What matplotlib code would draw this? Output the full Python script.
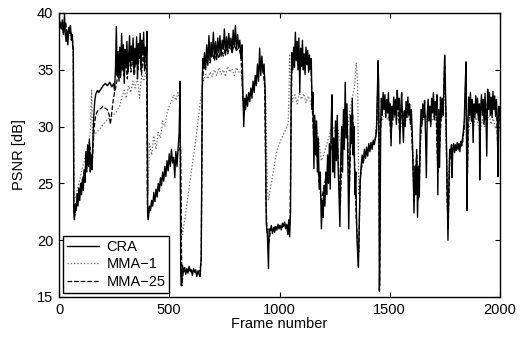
import matplotlib
matplotlib.use("Agg")
import matplotlib.pyplot as plt

plt.rcParams['font.family'] = ['Liberation Sans', 'DejaVu Sans']
plt.rcParams['font.size'] = 10.5

# CRA (solid)
cra_frame = [0, 5, 10, 15, 20, 25, 28, 32, 36, 40,
             44, 48, 52, 56, 60, 63, 65, 67, 70, 74,
             78, 82, 86, 90, 94, 98, 102, 106, 110, 114,
             118, 122, 126, 130, 134, 138, 142, 146, 150, 154,
             158, 162, 166, 170, 175, 180, 190, 200, 210, 220,
             230, 240, 248, 252, 256, 260, 264, 268, 272, 276,
             280, 284, 288, 292, 296, 300, 304, 308, 312, 316,
             320, 324, 328, 332, 336, 340, 344, 348, 352, 356,
             360, 364, 368, 372, 376, 380, 384, 388, 392, 396,
             399, 402, 405, 410, 415, 420, 425, 430, 435, 440,
             445, 450, 455, 460, 465, 470, 475, 480, 485, 490,
             495, 500, 505, 510, 515, 520, 525, 530, 535, 540,
             545, 549, 552, 555, 560, 565, 570, 575, 580, 585,
             590, 595, 600, 605, 610, 615, 620, 625, 630, 635,
             640, 645, 650, 653, 656, 660, 665, 670, 675, 680,
             685, 690, 695, 700, 705, 710, 715, 720, 725, 730,
             735, 740, 745, 750, 755, 760, 765, 770, 775, 780,
             785, 790, 795, 800, 805, 810, 815, 820, 825, 830,
             834, 838, 842, 846, 850, 855, 860, 865, 870, 875,
             880, 885, 890, 895, 900, 905, 910, 915, 920, 925,
             930, 935, 940, 945, 950, 953, 958, 963, 968, 973,
             978, 983, 988, 993, 998, 1003, 1008, 1013, 1018, 1023,
             1028, 1033, 1038, 1042, 1046, 1050, 1053, 1056, 1060, 1064,
             1068, 1072, 1076, 1080, 1084, 1088, 1092, 1096, 1100, 1104,
             1108, 1112, 1116, 1120, 1124, 1128, 1132, 1136, 1140, 1144,
             1148, 1152, 1156, 1160, 1164, 1168, 1172, 1176, 1180, 1185,
             1190, 1194, 1198, 1202, 1206, 1210, 1214, 1218, 1222, 1226,
             1230, 1234, 1238, 1242, 1246, 1250, 1254, 1258, 1262, 1266,
             1270, 1274, 1278, 1282, 1286, 1290, 1294, 1298, 1302, 1306,
             1310, 1314, 1318, 1322, 1326, 1330, 1334, 1338, 1342, 1346,
             1350, 1354, 1358, 1362, 1366, 1370, 1375, 1380, 1385, 1390,
             1395, 1400, 1405, 1410, 1415, 1420, 1425, 1430, 1435, 1440,
             1444, 1447, 1450, 1453, 1456, 1459, 1462, 1466, 1470, 1474,
             1478, 1482, 1486, 1490, 1494, 1498, 1502, 1506, 1510, 1514,
             1518, 1522, 1526, 1530, 1534, 1538, 1542, 1546, 1550, 1554,
             1558, 1562, 1566, 1570, 1574, 1578, 1582, 1586, 1590, 1594,
             1598, 1602, 1606, 1610, 1614, 1618, 1622, 1626, 1630, 1634,
             1638, 1642, 1646, 1650, 1654, 1658, 1662, 1666, 1670, 1674,
             1678, 1682, 1686, 1690, 1694, 1698, 1702, 1706, 1710, 1714,
             1718, 1722, 1726, 1730, 1734, 1738, 1742, 1746, 1749, 1752,
             1756, 1760, 1764, 1768, 1772, 1776, 1780, 1782, 1786, 1790,
             1794, 1798, 1802, 1806, 1810, 1814, 1818, 1822, 1826, 1830,
             1834, 1838, 1842, 1846, 1850, 1854, 1858, 1862, 1866, 1870,
             1874, 1878, 1882, 1886, 1890, 1894, 1898, 1902, 1906, 1908,
             1912, 1916, 1920, 1924, 1928, 1932, 1936, 1940, 1944, 1948,
             1952, 1956, 1960, 1964, 1968, 1972, 1976, 1980, 1984, 1988,
             1991, 1995, 2000]
cra_psnr = [38.8, 39.2, 38.6, 39.4, 38.1, 39.9, 38.3, 37.5, 38.4, 37.2,
            38.7, 38.2, 38.9, 37.6, 38.1, 37.0, 36.8, 22.5, 21.8, 23.2,
            22.6, 24.1, 23.0, 24.6, 23.5, 25.0, 24.0, 25.3, 24.4, 26.2,
            25.1, 27.8, 26.0, 28.4, 26.5, 28.9, 26.0, 27.5, 26.2, 29.0,
            31.0, 32.2, 32.8, 33.0, 33.2, 33.0, 33.3, 33.6, 33.8, 33.6,
            33.9, 33.5, 33.8, 33.2, 35.0, 38.8, 34.5, 36.6, 34.0, 37.0,
            34.5, 38.2, 35.0, 37.2, 33.8, 36.8, 35.2, 37.5, 34.8, 36.2,
            38.0, 35.3, 37.1, 35.8, 37.8, 34.6, 36.9, 35.5, 37.9, 34.2,
            37.3, 36.0, 38.2, 35.0, 37.6, 36.3, 38.3, 34.9, 37.0, 36.1,
            38.4, 22.3, 21.8, 23.0, 22.6, 23.5, 23.0, 24.2, 23.4, 24.5,
            23.8, 25.0, 24.3, 25.5, 24.8, 26.0, 25.2, 26.5, 25.6, 27.0,
            26.1, 27.6, 26.5, 28.0, 26.8, 27.3, 25.5, 27.8, 26.5, 28.0,
            29.5, 34.0, 17.0, 16.0, 17.8, 17.2, 17.6, 17.0, 17.5, 17.1,
            17.7, 17.3, 17.4, 16.9, 17.5, 17.2, 17.4, 16.8, 17.3, 17.0,
            16.8, 18.5, 34.5, 36.0, 35.2, 36.5, 35.0, 37.2, 35.4, 38.0,
            35.8, 37.4, 36.2, 38.3, 36.0, 37.5, 35.9, 37.8, 36.5, 38.0,
            36.2, 37.6, 36.8, 38.6, 36.3, 37.9, 36.6, 38.2, 36.9, 37.8,
            36.5, 38.5, 37.0, 38.9, 36.8, 38.1, 37.0, 37.6, 36.0, 37.2,
            33.0, 30.0, 32.5, 31.5, 32.8, 31.8, 33.0, 32.2, 33.4, 32.5,
            34.0, 33.0, 34.5, 33.6, 35.5, 34.0, 36.9, 34.5, 36.2, 34.8,
            35.5, 33.0, 21.5, 20.5, 17.5, 21.0, 20.8, 21.3, 20.6, 21.1,
            20.7, 21.2, 20.9, 21.4, 21.0, 21.3, 20.9, 21.5, 21.2, 21.6,
            21.0, 21.4, 20.5, 21.8, 20.3, 22.5, 33.0, 36.5, 35.0, 37.0,
            35.2, 38.3, 35.8, 37.5, 35.0, 37.8, 33.0, 36.9, 35.3, 37.6,
            35.0, 36.4, 34.6, 37.0, 35.5, 36.7, 34.8, 36.3, 35.0, 36.0,
            31.5, 33.0, 26.3, 31.0, 27.5, 30.5, 26.0, 29.0, 24.5, 26.0,
            21.0, 23.5, 22.0, 24.8, 23.0, 26.0, 24.0, 27.5, 25.0, 28.5,
            24.5, 30.0, 32.8, 26.0, 29.0, 25.5, 30.5, 27.0, 31.0, 26.5,
            24.0, 21.2, 27.5, 30.0, 26.0, 31.5, 28.0, 33.9, 29.0, 32.0,
            27.0, 21.0, 26.0, 31.0, 28.5, 32.5, 27.5, 30.0, 24.0, 26.0,
            21.0, 19.0, 17.6, 22.0, 25.0, 26.5, 27.5, 26.8, 28.0, 27.2,
            28.2, 27.4, 28.5, 27.8, 28.6, 28.0, 28.8, 28.4, 29.0, 29.5,
            33.0, 35.8, 33.5, 15.5, 20.0, 30.5, 32.5, 31.0, 33.0, 31.5,
            32.8, 30.8, 32.4, 31.2, 33.0, 30.5, 32.0, 28.3, 31.8, 30.6,
            32.6, 31.0, 32.4, 30.2, 33.2, 31.5, 32.5, 28.5, 31.6, 33.0,
            30.5, 28.6, 31.4, 30.0, 32.2, 30.8, 32.6, 31.0, 32.0, 30.2,
            31.5, 29.5, 26.0, 22.4, 26.5, 24.0, 28.0, 22.0, 26.5, 23.8,
            29.5, 31.5, 30.2, 32.0, 30.8, 32.3, 29.5, 25.5, 31.0, 32.4,
            30.5, 31.8, 30.0, 32.5, 31.2, 33.0, 30.6, 32.2, 31.0, 32.8,
            24.0, 31.5, 26.4, 32.6, 30.8, 32.5, 31.0, 34.0, 36.3, 34.0,
            30.0, 25.0, 20.0, 24.5, 28.0, 27.6, 28.4, 25.5, 28.0, 28.5,
            27.7, 28.4, 27.9, 28.6, 28.0, 28.5, 27.8, 28.7, 28.3, 29.0,
            29.6, 30.5, 33.5, 35.7, 22.6, 30.0, 32.6, 31.0, 33.0, 30.5,
            32.4, 28.6, 32.0, 30.8, 32.7, 31.2, 32.5, 30.6, 32.0, 25.3,
            31.5, 32.8, 31.0, 32.4, 30.2, 32.9, 31.2, 27.4, 33.3, 31.5,
            33.0, 31.0, 32.6, 30.8, 33.1, 31.5, 32.7, 30.9, 32.4, 30.5,
            25.6, 31.8, 31.0]

# MMA-1 (dotted)
mma1_frame = [0, 10, 20, 30, 40, 50, 60, 65, 68, 75,
              85, 95, 105, 115, 125, 135, 142, 148, 152, 158,
              170, 185, 200, 215, 230, 245, 260, 275, 285, 295,
              305, 315, 325, 335, 345, 355, 365, 375, 385, 395,
              400, 404, 410, 420, 430, 440, 450, 460, 470, 480,
              490, 500, 510, 520, 530, 540, 547, 552, 560, 570,
              580, 590, 600, 610, 620, 630, 640, 648, 655, 665,
              675, 685, 695, 705, 715, 725, 735, 745, 755, 765,
              775, 785, 795, 805, 815, 825, 833, 840, 850, 860,
              870, 880, 890, 900, 910, 920, 930, 937, 945, 950,
              960, 970, 980, 990, 1000, 1010, 1020, 1030, 1040, 1046,
              1052, 1060, 1070, 1080, 1090, 1100, 1110, 1120, 1130, 1140,
              1150, 1160, 1170, 1180, 1190, 1200, 1210, 1220, 1230, 1240,
              1250, 1260, 1270, 1280, 1290, 1300, 1310, 1320, 1330, 1340,
              1348, 1354, 1360, 1366, 1375, 1385, 1395, 1405, 1415, 1425,
              1435, 1442, 1447, 1452, 1458, 1470, 1480, 1490, 1500, 1510,
              1520, 1530, 1540, 1550, 1560, 1570, 1580, 1590, 1600, 1608,
              1615, 1622, 1630, 1638, 1648, 1660, 1670, 1680, 1690, 1700,
              1710, 1720, 1730, 1740, 1748, 1755, 1762, 1770, 1780, 1790,
              1800, 1810, 1820, 1830, 1838, 1846, 1851, 1858, 1870, 1880,
              1890, 1900, 1910, 1920, 1930, 1940, 1950, 1960, 1970, 1980,
              1990, 2000]
mma1_psnr = [38.5, 38.8, 38.2, 39.0, 37.8, 38.3, 37.8, 36.0, 23.5, 23.8,
             24.6, 25.4, 26.3, 27.0, 27.8, 28.5, 29.5, 33.2, 29.0, 29.2,
             29.5, 29.8, 30.2, 30.5, 30.8, 31.0, 31.3, 31.8, 32.6, 33.2,
             32.5, 33.6, 33.0, 34.0, 33.4, 34.4, 32.5, 34.6, 34.0, 35.0,
             34.0, 24.0, 28.5, 27.5, 29.2, 28.0, 29.5, 29.0, 30.5, 30.0,
             31.2, 31.8, 32.2, 32.8, 32.3, 33.0, 32.5, 22.0, 20.5, 21.8,
             23.2, 24.6, 26.0, 27.4, 28.8, 30.4, 32.0, 33.3, 34.0, 34.6,
             34.2, 34.8, 34.4, 35.0, 34.5, 35.2, 34.6, 35.0, 34.4, 35.3,
             34.8, 35.1, 34.5, 35.2, 34.8, 34.9, 33.0, 31.5, 32.0, 32.6,
             32.8, 33.5, 34.0, 34.6, 35.0, 35.3, 35.0, 33.0, 24.5, 23.5,
             24.7, 25.8, 27.0, 28.0, 28.5, 29.0, 29.4, 29.8, 30.3, 36.4,
             33.5, 32.2, 32.8, 32.0, 33.0, 32.4, 32.9, 32.1, 32.7, 32.2,
             31.5, 30.5, 29.8, 28.5, 27.0, 27.5, 28.2, 28.8, 29.5, 30.2,
             29.6, 30.5, 29.0, 28.5, 30.2, 31.0, 30.0, 31.5, 32.5, 33.5,
             35.6, 34.0, 24.0, 25.5, 26.6, 27.2, 27.6, 28.0, 28.4, 28.7,
             29.0, 31.0, 34.5, 28.0, 30.0, 30.8, 31.2, 30.6, 31.0, 30.2,
             31.0, 30.5, 31.2, 30.0, 30.8, 30.4, 31.0, 30.6, 29.8, 26.5,
             24.5, 27.0, 25.0, 28.5, 30.5, 30.8, 30.2, 30.9, 30.4, 31.0,
             30.6, 29.0, 30.5, 31.0, 33.5, 30.0, 22.5, 27.5, 28.0, 27.8,
             28.1, 27.9, 28.2, 28.4, 29.8, 33.5, 25.0, 29.8, 30.5, 30.0,
             30.8, 30.3, 29.5, 30.6, 30.0, 30.4, 31.0, 30.2, 30.7, 29.8,
             30.2, 29.8]

# MMA-25 (dashed)
mma25_frame = [0, 10, 20, 30, 40, 50, 60, 65, 67, 72,
               80, 90, 100, 110, 120, 130, 140, 146, 150, 155,
               160, 165, 170, 180, 190, 200, 210, 220, 228, 233,
               238, 245, 252, 258, 264, 270, 278, 286, 294, 302,
               310, 318, 326, 334, 342, 350, 358, 366, 374, 382,
               390, 397, 401, 405, 415, 425, 435, 445, 455, 465,
               475, 485, 495, 505, 515, 525, 535, 545, 552, 557,
               565, 575, 585, 595, 605, 615, 625, 635, 645, 650,
               655, 665, 675, 685, 695, 705, 715, 725, 735, 745,
               755, 765, 775, 785, 795, 805, 815, 825, 832, 838,
               846, 855, 865, 875, 885, 895, 905, 915, 925, 933,
               938, 943, 950, 960, 970, 980, 990, 1000, 1010, 1020,
               1030, 1040, 1048, 1052, 1056, 1065, 1075, 1085, 1095, 1105,
               1115, 1125, 1135, 1142, 1148, 1156, 1164, 1172, 1180, 1190,
               1200, 1210, 1220, 1230, 1240, 1250, 1260, 1270, 1276, 1284,
               1292, 1300, 1308, 1316, 1324, 1332, 1340, 1348, 1354, 1360,
               1366, 1375, 1385, 1395, 1405, 1415, 1425, 1435, 1442, 1447,
               1451, 1454, 1458, 1465, 1475, 1485, 1495, 1505, 1515, 1525,
               1535, 1545, 1555, 1565, 1575, 1585, 1595, 1605, 1610, 1616,
               1622, 1628, 1634, 1640, 1650, 1660, 1670, 1680, 1690, 1700,
               1710, 1718, 1726, 1735, 1744, 1749, 1755, 1760, 1765, 1772,
               1780, 1790, 1800, 1810, 1820, 1830, 1838, 1843, 1847, 1851,
               1856, 1865, 1875, 1885, 1895, 1905, 1915, 1925, 1935, 1945,
               1955, 1965, 1975, 1985, 1991, 1995, 2000]
mma25_psnr = [38.6, 38.9, 38.4, 39.2, 37.8, 38.5, 38.0, 36.5, 22.8, 22.2,
              23.4, 24.2, 24.8, 25.6, 26.4, 27.5, 28.2, 27.0, 26.5, 28.5,
              30.0, 30.8, 31.2, 31.5, 31.6, 31.8, 31.6, 31.5, 31.0, 30.2,
              31.0, 32.2, 33.0, 33.5, 34.2, 35.5, 34.3, 36.2, 34.5, 35.8,
              34.2, 36.5, 34.8, 36.0, 34.5, 36.6, 35.0, 36.8, 34.6, 36.2,
              35.0, 36.0, 23.0, 22.4, 22.9, 23.3, 23.9, 24.3, 24.8, 25.3,
              25.7, 26.1, 26.6, 27.0, 27.3, 26.8, 27.5, 28.0, 28.2, 16.0,
              17.4, 17.2, 17.4, 17.3, 17.1, 17.3, 17.0, 17.2, 18.0, 33.5,
              35.0, 35.4, 36.2, 35.6, 36.5, 35.8, 36.7, 36.0, 36.9, 36.2,
              37.0, 36.4, 37.2, 36.5, 37.4, 36.6, 37.0, 36.2, 33.5, 31.0,
              32.0, 32.6, 32.8, 33.2, 33.8, 34.2, 35.0, 35.5, 35.0, 33.5,
              24.0, 21.0, 19.5, 21.0, 20.8, 21.2, 21.0, 21.3, 21.1, 21.4,
              21.2, 21.0, 21.5, 30.0, 35.0, 35.6, 36.8, 35.4, 36.0, 35.8,
              35.2, 35.8, 35.0, 35.4, 32.0, 28.5, 29.0, 27.0, 25.0, 23.5,
              24.5, 25.5, 26.5, 27.5, 29.0, 27.5, 30.0, 25.5, 23.0, 28.5,
              30.5, 32.0, 30.0, 24.0, 29.5, 31.0, 27.0, 22.0, 19.5, 19.0,
              25.5, 26.8, 27.3, 27.6, 28.0, 28.3, 28.5, 28.9, 30.5, 35.0,
              30.0, 16.0, 29.5, 31.5, 32.0, 31.6, 32.3, 29.0, 31.6, 32.0,
              32.3, 29.5, 31.8, 30.5, 31.6, 31.9, 31.0, 27.0, 23.5, 26.0,
              27.5, 23.5, 25.0, 29.0, 31.4, 31.0, 30.6, 31.2, 31.5, 31.8,
              31.2, 26.0, 28.0, 31.6, 32.5, 35.5, 31.0, 24.0, 21.0, 27.0,
              28.0, 28.2, 28.1, 28.3, 28.2, 28.6, 30.0, 33.0, 35.0, 24.0,
              30.0, 31.8, 31.2, 31.5, 32.0, 30.5, 32.0, 31.4, 30.5, 32.6,
              31.8, 31.5, 32.2, 31.3, 27.0, 31.0, 30.5]

x_ticks = [0, 500, 1000, 1500, 2000]
y_ticks = [15, 20, 25, 30, 35, 40]

fig = plt.figure(figsize=(5.23, 3.39), dpi=100)
ax = fig.add_axes([59 / 523, 1 - 297 / 339, 441 / 523, 284 / 339])

ax.plot(cra_frame, cra_psnr, color='black', linestyle='-', linewidth=1.0, label='CRA', zorder=3)
ax.plot(mma1_frame, mma1_psnr, color='0.4', linestyle=':', linewidth=0.9, label='MMA\u22121', zorder=2)
ax.plot(mma25_frame, mma25_psnr, color='black', linestyle='--', linewidth=0.9, label='MMA\u221225', zorder=2)

ax.set_xlim(0, 2000)
ax.set_ylim(15, 40)
ax.set_xticks(x_ticks)
ax.set_yticks(y_ticks)
ax.tick_params(direction='in', top=True, right=True, length=3.5, width=0.8, pad=4)
for s in ax.spines.values():
    s.set_linewidth(1.0)

ax.set_xlabel('Frame number', labelpad=0)
ax.set_ylabel('PSNR [dB]', labelpad=8)

leg = ax.legend(loc='lower left', fancybox=False, edgecolor='black', framealpha=1,
                borderaxespad=0.3, handlelength=2.2, handletextpad=0.5,
                labelspacing=0.25, borderpad=0.25)
leg.get_frame().set_linewidth(1.0)

plt.savefig('out.png', dpi=100)
